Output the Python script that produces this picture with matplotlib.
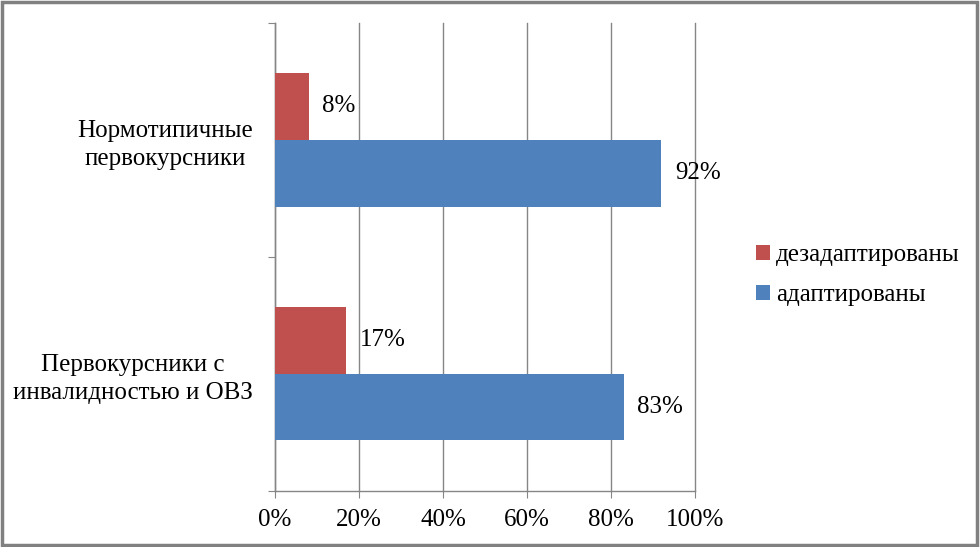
import matplotlib
matplotlib.use("Agg")
import matplotlib.pyplot as plt
from matplotlib.patches import Rectangle, Patch
import numpy as np

# --- dados ---
categorias = ["Первокурсники с\nинвалидностью и ОВЗ", "Нормотипичные\nпервокурсники"]
adaptirovany = [83, 92]
dezadaptirovany = [17, 8]
serie_nomes = ["дезадаптированы", "адаптированы"]
x_ticks = [0, 20, 40, 60, 80, 100]

plt.rcParams["font.family"] = ["Liberation Serif", "DejaVu Serif"]
grid_cor = "#868686"
vermelho = "#C0504D"
azul = "#4F81BD"

fig = plt.figure(figsize=(9.8, 5.47), dpi=100)
ax = fig.add_axes([275 / 980, 1 - 490.5 / 547, 420 / 980, 467.5 / 547])

y = np.arange(len(categorias))
h = 0.286
ax.barh(y + h / 2, dezadaptirovany, height=h, color=vermelho, zorder=3)
ax.barh(y - h / 2, adaptirovany, height=h, color=azul, zorder=3)

# rótulos de dados
for yi, v in zip(y, dezadaptirovany):
    ax.annotate(f"{v}%", (v, yi + h / 2), xytext=(10, 0), textcoords="offset points",
                va="center", ha="left", fontsize=18)
for yi, v in zip(y, adaptirovany):
    ax.annotate(f"{v}%", (v, yi - h / 2), xytext=(10, 0), textcoords="offset points",
                va="center", ha="left", fontsize=18)

ax.set_xlim(0, 100)
ax.set_ylim(-0.5, 1.5)
ax.set_xticks(x_ticks)
ax.set_xticklabels([f"{t}%" for t in x_ticks], fontsize=18)
ax.set_yticks([-0.5, 0.5, 1.5], minor=False)
ax.set_yticklabels([])
ax.set_yticks(y, minor=True)
ax.set_yticklabels(categorias, minor=True, fontsize=18)
for lbl in ax.get_yticklabels(minor=True):
    lbl.set_multialignment("center")
    lbl.set_linespacing(1.35)
ax.tick_params(axis="y", which="minor", length=0, pad=16)
ax.tick_params(axis="y", which="major", length=5, color=grid_cor, direction="out")
ax.tick_params(axis="x", length=5, color=grid_cor, direction="out", pad=8.5)

ax.xaxis.grid(True, color=grid_cor, linewidth=1, zorder=0)
for gl in ax.get_xgridlines():
    gl.set_clip_on(False)
ax.set_axisbelow(True)
for s in ["top", "right"]:
    ax.spines[s].set_visible(False)
for s in ["left", "bottom"]:
    ax.spines[s].set_color(grid_cor)
    ax.spines[s].set_linewidth(1)

# legenda
handles = [Patch(facecolor=vermelho), Patch(facecolor=azul)]
fig.legend(handles, serie_nomes, loc="upper left", bbox_to_anchor=(756 / 980, 1 - 244 / 547),
           frameon=False, fontsize=18, handlelength=0.55, handleheight=0.55,
           handletextpad=0.25, labelspacing=0.72, borderpad=0, borderaxespad=0)

# moldura
fig.patches.append(Rectangle((0.002, 0.004), 0.995, 0.992, transform=fig.transFigure,
                             fill=False, edgecolor="#808080", linewidth=2.5))

fig.savefig("out.png", dpi=100)
